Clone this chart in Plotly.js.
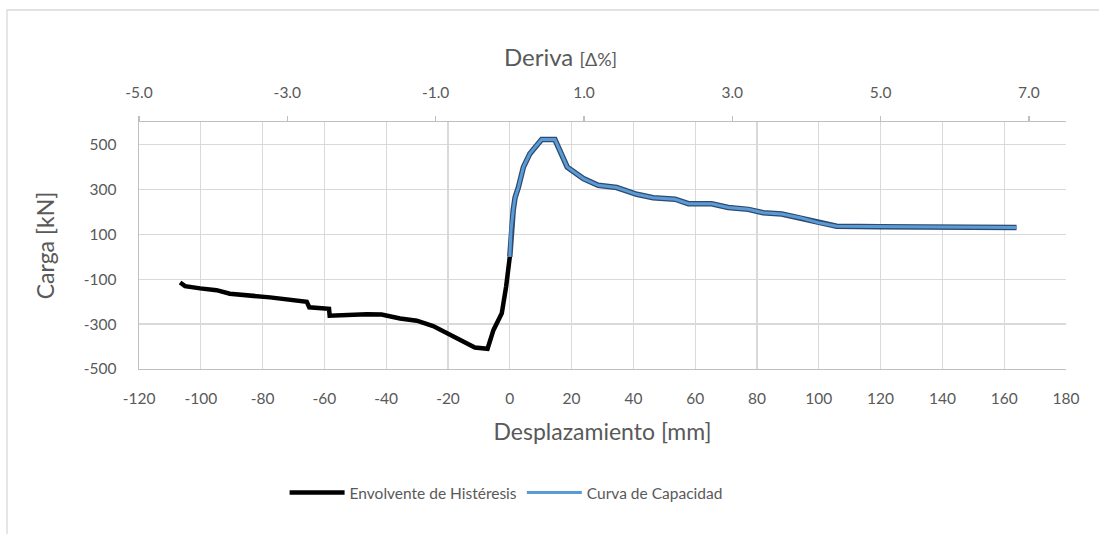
<!DOCTYPE html>
<html>
<head>
<meta charset="utf-8">
<script src="https://cdn.plot.ly/plotly-3.0.1.min.js"></script>
<style>html,body{margin:0;padding:0;background:#fff;}#chart{width:1099px;height:534px;}</style>
</head>
<body>
<div id="chart"></div>
<script>
// Envolvente de Histéresis (desplazamiento mm, carga kN)
const envX = [-106.7, -105.1, -100.2, -94.9, -90.6, -77.6, -65.7, -64.9, -58.5, -58.3, -46.3, -41.5, -35.5, -30.1, -24.8, -18.3, -11.3, -7.2, -5.3, -2.6, -1.2, 0];
const envY = [-115, -131, -141, -149, -165, -181, -201, -225, -232, -263, -256, -257, -275, -285, -309, -353, -404, -410, -327, -252, -134, 0];
// Curva de Capacidad
const capX = [0, 0.4, 1.1, 1.7, 2.8, 4.4, 6.5, 10.3, 14.6, 18.6, 23.8, 28.6, 34.6, 41.1, 46.4, 53.5, 57.8, 65.3, 70.7, 77.2, 82.0, 88.0, 93.9, 99.8, 105.8, 120, 140, 164];
const capY = [0, 118, 207, 263, 310, 399, 459, 522, 522, 399, 348, 318, 308, 278, 263, 256, 236, 236, 219, 211, 196, 190, 174, 152, 136, 134, 132, 130];
// Axis ranges and tick labels
const xRange = [-120, 180];
const xTickVals = [-120, -100, -80, -60, -40, -20, 0, 20, 40, 60, 80, 100, 120, 140, 160, 180];
const xTickText = ['-120', '-100', '-80', '-60', '-40', '-20', '0', '20', '40', '60', '80', '100', '120', '140', '160', '180'];
const driftRange = [-5, 7.5];
const driftTickVals = [-5, -3, -1, 1, 3, 5, 7];
const driftTickText = ['-5.0', '-3.0', '-1.0', '1.0', '3.0', '5.0', '7.0'];
const yRange = [-500, 600];
const yTickVals = [-500, -300, -100, 100, 300, 500];
const yTickText = ['-500', '-300', '-100', '100', '300', '500'];

const font = 'Lato, "Open Sans", sans-serif';
const txt = '#595959';
const grid = '#d9d9d9';

const traces = [
  {x: envX, y: envY, mode: 'lines', name: 'Envolvente de Histéresis',
   line: {color: '#000000', width: 4.5}},
  {x: capX, y: capY, mode: 'lines', showlegend: false, hoverinfo: 'skip',
   line: {color: '#2e4a6e', width: 5.5}},
  {x: capX, y: capY, mode: 'lines', name: 'Curva de Capacidad',
   line: {color: '#5b9bd5', width: 3}},
  // carrier for the drift axis (no visible marks)
  {x: driftRange, y: [null, null], xaxis: 'x2', mode: 'lines', showlegend: false, hoverinfo: 'skip'}
];

const layout = {
  width: 1099, height: 534,
  margin: {l: 139, r: 33, t: 122, b: 165},
  paper_bgcolor: '#ffffff', plot_bgcolor: '#ffffff',
  font: {family: font, color: txt, size: 15},
  showlegend: true,
  legend: {orientation: 'h', x: 0.396, xanchor: 'center', y: -0.502, yanchor: 'middle',
           font: {size: 15.5, color: txt}, tracegroupgap: 0, itemwidth: 55},
  xaxis: {range: xRange, tickmode: 'array', tickvals: xTickVals, ticktext: xTickText,
          showgrid: true, gridcolor: grid, gridwidth: 1.3,
          zeroline: false, showline: true, linecolor: '#bfbfbf', linewidth: 1.3,
          ticks: '', ticklabelstandoff: 15, tickfont: {size: 15.5, color: txt},
          title: {text: 'Desplazamiento [mm]', font: {size: 23, color: txt}, standoff: 18}},
  xaxis2: {range: driftRange, overlaying: 'x', side: 'top', anchor: 'y', tickmode: 'array',
           tickvals: driftTickVals, ticktext: driftTickText,
           showgrid: false, zeroline: false, showline: true, linecolor: '#bfbfbf', linewidth: 1.3,
           ticks: 'outside', ticklen: 5, tickcolor: '#bfbfbf', tickwidth: 1.3,
           ticklabelstandoff: 12, tickfont: {size: 15.5, color: txt}},
  yaxis: {range: yRange, tickmode: 'array', tickvals: yTickVals, ticktext: yTickText,
          showgrid: true, gridcolor: grid, gridwidth: 1.3,
          zeroline: false, showline: true, linecolor: '#bfbfbf', linewidth: 1.3, ticks: '',
          ticklabelstandoff: 18, tickfont: {size: 15.5, color: txt},
          title: {text: 'Carga [kN]', font: {size: 23, color: txt}, standoff: 22}},
  annotations: [
    {xref: 'paper', yref: 'paper', x: 0.455, y: 1.267, xanchor: 'center', yanchor: 'middle', showarrow: false,
     text: 'Deriva <span style="font-size:18px">[Δ%]</span>', font: {size: 24, color: txt, family: font}}
  ],
  shapes: [
    {type: 'rect', xref: 'paper', yref: 'paper', x0: -0.1424, x1: 1.04, y0: -0.70, y1: 1.4534,
     line: {color: '#d9d9d9', width: 1.3}, fillcolor: 'rgba(0,0,0,0)', layer: 'below'}
  ]
};

Plotly.newPlot('chart', traces, layout, {displayModeBar: false, staticPlot: true});
</script>
</body>
</html>
